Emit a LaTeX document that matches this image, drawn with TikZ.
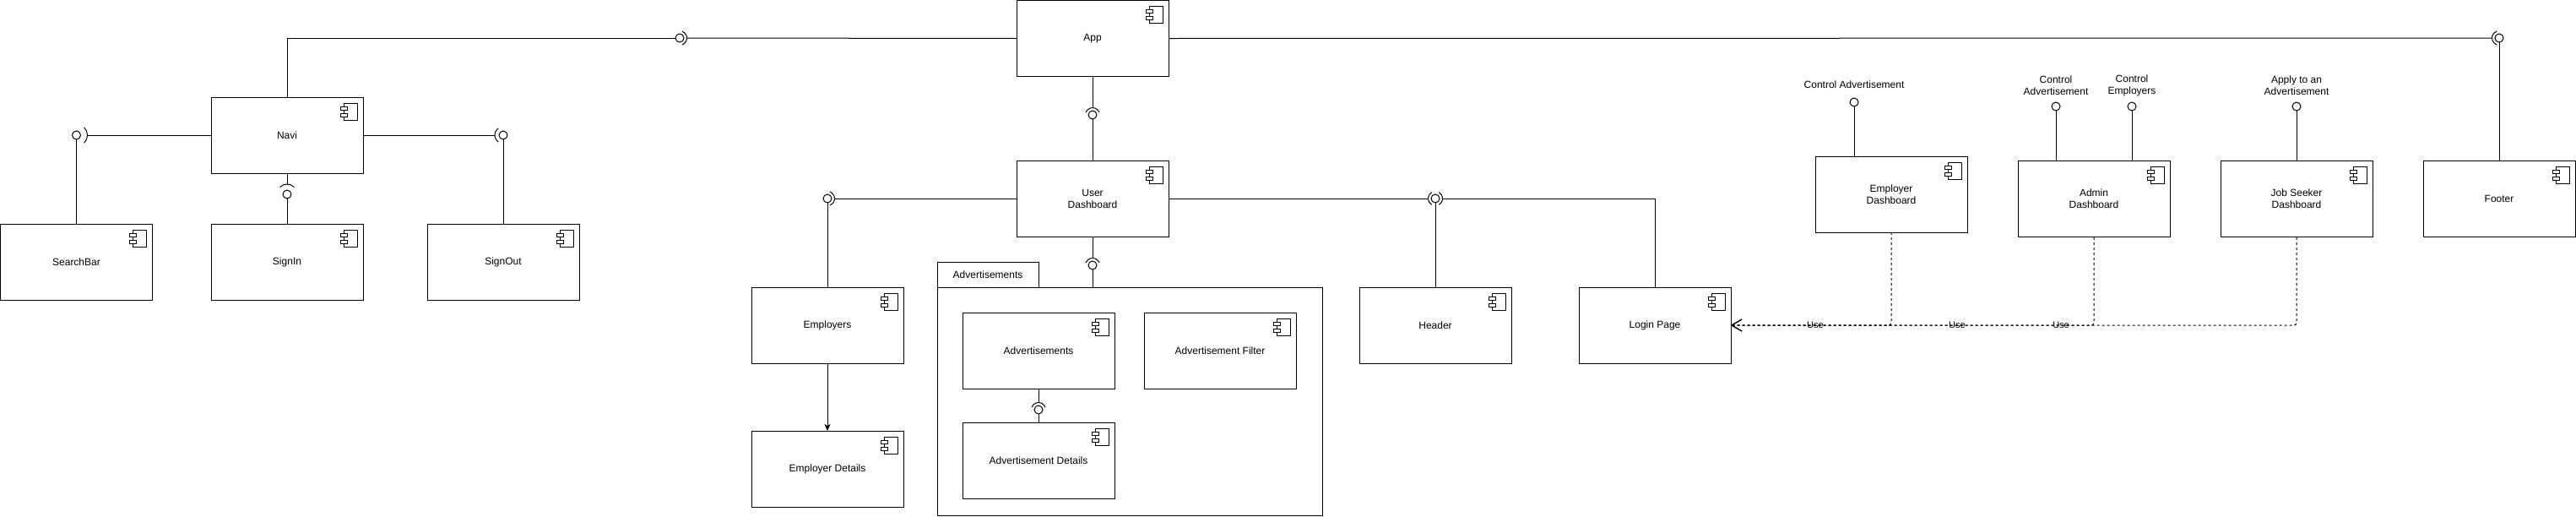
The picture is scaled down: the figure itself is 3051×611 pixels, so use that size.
\documentclass[tikz,border=0pt]{standalone}
\usepackage{fontspec}
\setmainfont{Liberation Sans}
\usetikzlibrary{arrows.meta,calc}
\newcommand\fsz{\fontsize{12pt}{14pt}\selectfont}
\newcommand\fszs{\fontsize{11pt}{13pt}\selectfont}
\newcommand\cicon[1]{%
  \draw[line width=1pt,fill=white] ($(#1.north east)+(-23pt,-7pt)$) rectangle ($(#1.north east)+(-7pt,-27pt)$);
  \draw[line width=1pt,fill=white] ($(#1.north east)+(-27pt,-11pt)$) rectangle ($(#1.north east)+(-19pt,-15pt)$);
  \draw[line width=1pt,fill=white] ($(#1.north east)+(-27pt,-19pt)$) rectangle ($(#1.north east)+(-19pt,-23pt)$);
}
% #1 node, #2 radius, #3 half-angle
\newcommand\sockR[3]{\draw[sock] ([shift={(-#3:#2)}]#1.center) arc[start angle=-#3,end angle=#3,radius=#2];}
\newcommand\sockL[3]{\draw[sock] ([shift={(180-#3:#2)}]#1.center) arc[start angle=180-#3,end angle=180+#3,radius=#2];}
\newcommand\sockT[3]{\draw[sock] ([shift={(90-#3:#2)}]#1.center) arc[start angle=90-#3,end angle=90+#3,radius=#2];}
\begin{document}
\begin{tikzpicture}[x=1pt,y=-1pt,
  comp/.style={draw, line width=1pt, minimum width=180pt, minimum height=90pt, inner sep=0pt, outer sep=0pt, align=center, anchor=north west, font=\fsz},
  wire/.style={line width=1pt},
  ball/.style={circle, draw, line width=1pt, minimum size=10pt, inner sep=0pt, outer sep=0pt, fill=white},
  sock/.style={line width=1pt},
  use/.style={line width=1pt, dash pattern=on 3pt off 3pt, rounded corners=3pt},
  lbl/.style={font=\fsz, align=center, inner sep=0pt},
  ulbl/.style={font=\fszs, inner sep=0pt},
]
\useasboundingbox (0,0) rectangle (3051,611);

% package
\node[draw, line width=1pt, minimum width=120pt, minimum height=30pt, inner sep=0pt, outer sep=0pt, anchor=north west, font=\fsz] (pkgtab) at (1110,310) {Advertisements};
\node[draw, line width=1pt, minimum width=456pt, minimum height=270pt, inner sep=0pt, outer sep=0pt, anchor=north west] (pkg) at (1110,340) {};

% components
\node[comp] (app) at (1204,0.5) {App};
\node[comp] (navi) at (250,115) {Navi};
\node[comp] (sb) at (0.5,265) {SearchBar};
\node[comp] (si) at (250,265) {SignIn};
\node[comp] (so) at (506,265) {SignOut};
\node[comp] (ud) at (1204,190) {User\\Dashboard};
\node[comp] (emp) at (890,340) {Employers};
\node[comp] (empd) at (890,510) {Employer Details};
\node[comp] (adv) at (1140,370) {Advertisements};
\node[comp] (advf) at (1355,370) {Advertisement Filter};
\node[comp] (advd) at (1140,500) {Advertisement Details};
\node[comp] (hdr) at (1610,340) {Header};
\node[comp] (login) at (1870,340) {Login Page};
\node[comp] (ed) at (2150,185) {Employer\\Dashboard};
\node[comp] (adm) at (2390,190) {Admin\\Dashboard};
\node[comp] (js) at (2630,190) {Job Seeker\\Dashboard};
\node[comp] (foot) at (2870,190) {Footer};
\foreach \n in {app,navi,sb,si,so,ud,emp,empd,adv,advf,advd,hdr,login,ed,adm,js,foot} {\cicon{\n}}

% balls (provided interfaces)
\node[ball] (b1) at (805,45) {};
\node[ball] (b2) at (90.5,160) {};
\node[ball] (b3) at (340,230) {};
\node[ball] (b4) at (596,160) {};
\node[ball] (b5) at (1294,136) {};
\node[ball] (b6) at (980,235) {};
\node[ball] (b7) at (1700,235) {};
\node[ball] (b8) at (1294,314) {};
\node[ball] (b9) at (1230,485) {};
\node[ball] (b10) at (2960,45) {};

% Navi - App
\draw[wire] (b1.west) -| (navi.north);
\draw[wire] (app.west) -- ([xshift=8.5pt]b1.center);
\sockR{b1}{8.5pt}{70}
% SearchBar - Navi
\draw[wire] (b2.south) -- (sb.north);
\draw[wire] (navi.west) -- ([xshift=13pt]b2.center);
\sockR{b2}{13pt}{45}
% SignIn - Navi
\draw[wire] (b3.south) -- (si.north);
\draw[wire] (navi.south) -- ([yshift=12pt]b3.center);
\sockT{b3}{12pt}{45}
% SignOut - Navi
\draw[wire] (b4.south) -- (so.north);
\draw[wire] (navi.east) -- ([xshift=-10pt]b4.center);
\sockL{b4}{10pt}{55}
% User Dashboard - App
\draw[wire] (b5.south) -- (ud.north);
\draw[wire] (app.south) -- ([yshift=8.5pt]b5.center);
\sockT{b5}{8.5pt}{70}
% Employers - User Dashboard
\draw[wire] (b6.south) -- (emp.north);
\draw[wire] (ud.west) -- ([xshift=8.5pt]b6.center);
\sockR{b6}{8.5pt}{70}
% Header - User Dashboard / Login Page
\draw[wire] (b7.south) -- (hdr.north);
\draw[wire] (ud.east) -- ([xshift=-8.5pt]b7.center);
\draw[wire] ([xshift=8.5pt]b7.center) -| (login.north);
\sockL{b7}{8.5pt}{60}
\sockR{b7}{8.5pt}{60}
% Package - User Dashboard
\draw[wire] (b8.south) -- (b8.south |- pkg.north);
\draw[wire] (ud.south) -- ([yshift=8.5pt]b8.center);
\sockT{b8}{8.5pt}{70}
% Advertisement Details - Advertisements
\draw[wire] (b9.south) -- (advd.north);
\draw[wire] (adv.south) -- ([yshift=8.5pt]b9.center);
\sockT{b9}{8.5pt}{70}
% Footer - App
\draw[wire] (b10.south) -- (foot.north);
\draw[wire] (app.east) -- ([xshift=-8.5pt]b10.center);
\sockL{b10}{8.5pt}{70}

% Employers -> Employer Details
\draw[wire, -{Stealth[length=8pt,width=7pt,inset=2pt]}] (emp.south) -- (empd.north);

% lollipops on dashboards
\node[ball] (l1) at (2196,121) {};
\node[ball] (l2) at (2435,126) {};
\node[ball] (l3) at (2525,126) {};
\node[ball] (l4) at (2720,126) {};
\draw[wire] (l1.south) -- (l1.south |- ed.north);
\draw[wire] (l2.south) -- (l2.south |- adm.north);
\draw[wire] (l3.south) -- (l3.south |- adm.north);
\draw[wire] (l4.south) -- (l4.south |- js.north);
\node[lbl] (t1) at (2196,100) {Control Advertisement};
\node[lbl] (t2) at (2435,101) {Control\\Advertisement};
\node[lbl] (t3) at (2525,101) {Control\\Employers};
\node[lbl] (t4) at (2720,101) {Apply to an\\Advertisement};

% Use dependencies (drawn from the arrow end so the dashes line up)
\draw[use, {Straight Barb[length=12pt,width=14pt,line width=1pt]}-] (login.east) -| (ed.south);
\draw[use, {Straight Barb[length=12pt,width=14pt,line width=1pt]}-] (login.east) -| (adm.south);
\draw[use, {Straight Barb[length=12pt,width=14pt,line width=1pt]}-] (login.east) -| (js.south);
\node[ulbl] (u1) at (2150,385) {Use};
\node[ulbl] (u2) at (2318,385) {Use};
\node[ulbl] (u3) at (2441,385) {Use};
\end{tikzpicture}
\end{document}
